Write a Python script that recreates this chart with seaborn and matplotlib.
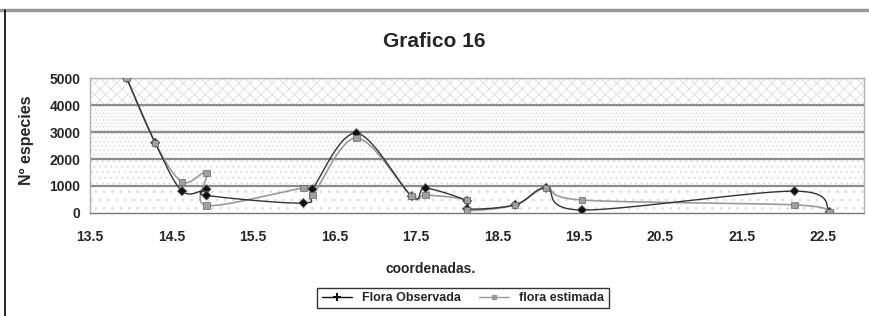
import numpy as np
import pandas as pd
import seaborn as sns
import matplotlib.pyplot as plt
from matplotlib.lines import Line2D

# values
coordenadas = [13.95, 14.30, 14.63, 14.93, 14.93, 16.12, 16.23, 16.77, 17.45, 17.62,
               18.13, 18.13, 18.72, 19.10, 19.54, 22.15, 22.58]
flora_observada = [5000, 2600, 810, 880, 650, 370, 880, 2960, 620, 920,
                   450, 150, 300, 930, 110, 810, 40]
flora_estimada = [5000, 2600, 1150, 1480, 280, 920, 660, 2780, 630, 670,
                  480, 100, 300, 930, 480, 300, 40]
x_ticks = [13.5, 14.5, 15.5, 16.5, 17.5, 18.5, 19.5, 20.5, 21.5, 22.5]
y_ticks = [0, 1000, 2000, 3000, 4000, 5000]


def smooth(x, y, n=20):
    # Excel-like smoothed line (Catmull-Rom through the points)
    p = np.column_stack([x, y]).astype(float)
    p = np.vstack([p[0], p, p[-1]])
    t = np.linspace(0, 1, n)[:, None]
    out = []
    for i in range(1, len(p) - 2):
        p0, p1, p2, p3 = p[i - 1], p[i], p[i + 1], p[i + 2]
        c1 = p1 + (p2 - p0) / 6
        c2 = p2 - (p3 - p1) / 6
        seg = ((1 - t) ** 3 * p1 + 3 * (1 - t) ** 2 * t * c1
               + 3 * (1 - t) * t ** 2 * c2 + t ** 3 * p2)
        out.append(seg)
    out = np.vstack(out)
    return out[:, 0], out[:, 1]


sns.set_style("white")
plt.rcParams['font.family'] = ['Liberation Sans', 'DejaVu Sans']
plt.rcParams['hatch.linewidth'] = 0.5

df = pd.DataFrame({'x': coordenadas * 2,
                   'y': flora_observada + flora_estimada,
                   'serie': ['Flora Observada'] * len(coordenadas) + ['flora estimada'] * len(coordenadas)})

fig = plt.figure(figsize=(8.69, 3.16), dpi=100)
ax = fig.add_axes([0.1036, 0.326, 0.8904, 0.427])

# patterned background bands
bands = [(0, 1000, '..'), (1000, 2000, '...'), (2000, 3000, '....'),
         (3000, 4000, '.....'), (4000, 5000, 'xxx')]
for lo, hi, h in bands:
    ax.axhspan(lo, hi, facecolor='white', hatch=h, edgecolor='#d6d6d6', lw=0, zorder=0)
for yv in y_ticks[1:]:
    ax.axhline(yv, color='#8c8c8c', lw=1.6, zorder=1)

xs, ys = smooth(coordenadas, flora_estimada)
ax.plot(xs, ys, color='#9a9a9a', lw=1.2, zorder=2)
xs, ys = smooth(coordenadas, flora_observada)
ax.plot(xs, ys, color='#333333', lw=1.0, zorder=3)

sns.scatterplot(data=df, x='x', y='y', hue='serie', style='serie',
                palette={'Flora Observada': '#111111', 'flora estimada': '#a0a0a0'},
                markers={'Flora Observada': 'D', 'flora estimada': 's'},
                s=22, edgecolor='#666666', linewidth=0.5, legend=False, ax=ax, zorder=4)

ax.set_xlim(13.5, 23.0)
ax.set_ylim(0, 5000)
ax.set_xticks(x_ticks)
ax.set_xticklabels([str(v) for v in x_ticks])
ax.set_yticks(y_ticks)
ax.tick_params(axis='both', labelsize=10, length=3, color='#777777', direction='out')
for lab in ax.get_xticklabels() + ax.get_yticklabels():
    lab.set_fontweight('bold')
ax.tick_params(axis='x', pad=9)
ax.tick_params(axis='y', pad=4)
for s in ax.spines.values():
    s.set_color('#b0b0b0')
    s.set_linewidth(1.0)
ax.spines['bottom'].set_color('#777777')
ax.spines['bottom'].set_linestyle((0, (2, 1)))
ax.set_xlabel('coordenadas.', fontsize=10, fontweight='bold')
ax.set_ylabel('Nº especies', fontsize=11.5, fontweight='bold')
ax.xaxis.set_label_coords(0.44, -0.36)
ax.yaxis.set_label_coords(-0.072, 0.54)

fig.text(0.5, 0.87, 'Grafico 16', ha='center', va='center', fontsize=15, fontweight='bold')

handles = [Line2D([], [], color='#111111', lw=1.0, marker='+', markersize=6, mew=1.5),
           Line2D([], [], color='#999999', lw=1.0, marker='s', markersize=3.5)]
leg = fig.legend(handles, ['Flora Observada', 'flora estimada'], loc='center',
                 bbox_to_anchor=(0.533, 0.057), ncol=2, fontsize=9, frameon=True,
                 fancybox=False, handlelength=2.4, columnspacing=1.5, borderpad=0.35)
leg.get_frame().set_edgecolor('black')
leg.get_frame().set_linewidth(1.0)
for t in leg.get_texts():
    t.set_fontweight('bold')

# page frame lines of the cropped screenshot
fig.add_artist(Line2D([0, 1], [0.968, 0.968], color='#999999', lw=2.5, transform=fig.transFigure))
fig.add_artist(Line2D([0.006, 0.006], [0, 0.968], color='black', lw=1.2, transform=fig.transFigure))

fig.savefig('out.png', dpi=100)
